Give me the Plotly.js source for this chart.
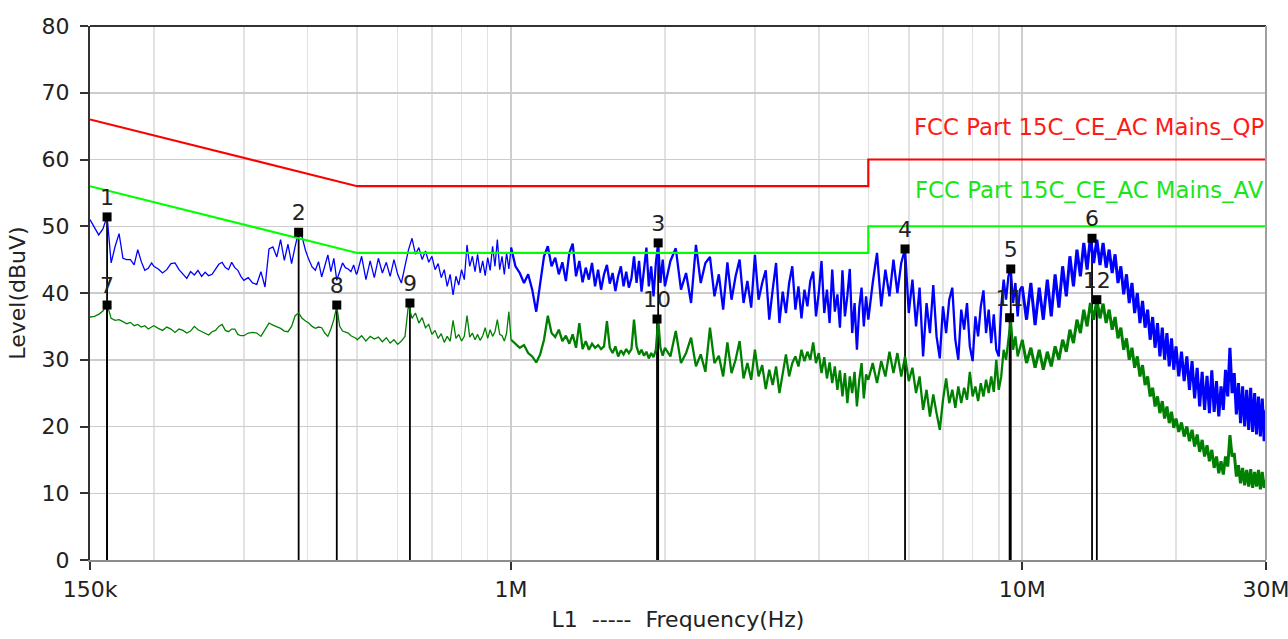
<!DOCTYPE html>
<html><head><meta charset="utf-8">
<script src="https://cdn.plot.ly/plotly-3.0.1.min.js"></script>
<style>html,body{margin:0;padding:0;background:#fff;} #chart{width:1288px;height:639px;}</style>
</head><body><div id="chart"></div>
<script>
// ---- Scan data (frequency in MHz, level in dBuV) ----
const freqA = [0.150,0.153,0.156,0.159,0.162,0.165,0.168,0.171,0.174,0.177,0.180,0.183,0.186,0.189,0.192,0.195,0.198];
const peakA = [51.0,49.8,48.7,49.6,51.5,44.5,47.0,48.9,45.2,45.0,45.0,44.2,46.5,44.7,43.4,43.7,44.5];
const avgA  = [36.4,36.5,36.8,37.3,38.3,36.2,35.9,36.0,35.7,35.4,35.6,35.1,35.3,34.9,35.1,34.6,34.9];

const freqB = [0.200,0.204,0.208,0.212,0.216,0.220,0.224,0.228,0.232,0.236,0.240,0.244,0.248,0.252,0.256,0.260,0.264,0.268,0.272,0.276,0.280,0.284,0.288,0.292,0.296];
const peakB = [44.0,43.6,43.0,43.5,44.4,44.5,43.5,42.8,42.2,43.2,42.7,43.4,42.5,43.1,42.6,42.8,43.5,44.3,44.6,43.8,43.5,44.6,43.8,43.4,42.5];
const avgB  = [35.1,34.7,34.4,34.9,34.6,34.1,34.6,34.4,34.0,34.3,35.0,34.5,34.2,33.9,33.7,34.2,34.4,35.0,35.3,34.4,34.2,34.6,34.6,33.8,33.6];

const freqC = [0.300,0.306,0.312,0.318,0.324,0.330,0.336,0.342,0.348,0.354,0.360,0.366,0.372,0.378,0.384,0.390,0.396,0.402,0.408,0.414,0.420,0.426,0.432,0.438,0.444,0.450,0.456,0.462,0.468,0.474,0.480,0.486,0.492,0.498];
const peakC = [41.9,42.3,41.5,41.3,43.2,40.9,46.6,46.9,45.4,48.0,44.9,47.3,44.4,47.0,49.2,48.4,46.4,45.0,43.9,43.4,44.7,42.4,43.9,45.7,43.2,45.2,41.9,43.4,44.5,43.8,43.6,43.2,44.2,42.8];
const avgC  = [33.6,34.0,34.1,34.0,33.5,34.5,35.5,35.2,35.0,34.7,34.3,34.2,35.0,36.6,37.0,36.2,35.8,35.5,35.0,34.7,34.9,34.8,34.0,33.5,34.6,36.0,38.0,35.0,34.3,34.1,34.0,33.6,33.4,33.2];

const freqD = [0.50,0.51,0.52,0.53,0.54,0.55,0.56,0.57,0.58,0.59,0.60,0.61,0.62,0.63,0.64,0.65,0.66,0.67,0.68,0.69,0.70,0.71,0.72,0.73,0.74,0.75,0.76,0.77,0.78,0.79,0.80,0.81,0.82,0.83,0.84,0.85,0.86,0.87,0.88,0.89,0.90,0.91,0.92,0.93,0.94,0.95,0.96,0.97,0.98,0.99];
const peakD = [43.0,45.5,42.0,44.8,42.3,45.2,43.0,44.6,42.5,45.0, 42.8,41.5,44.0,46.5,48.2,45.8,46.8,45.0,46.3,44.6, 45.5,43.5,44.4,42.3,43.5,41.0,42.8,39.7,42.5,41.2, 43.5,42.0,47.2,44.0,45.5,43.2,45.8,43.0,44.8,42.6, 45.3,43.4,47.0,44.0,48.0,43.5,45.5,42.8,46.0,43.6];
const avgD  = [33.0,33.6,32.8,33.5,33.1,33.4,32.7,33.3,32.5,33.0, 32.3,32.8,33.5,38.3,36.2,37.0,35.5,36.3,34.8,35.3, 33.8,34.4,33.2,33.9,32.6,33.5,32.8,35.9,33.2,33.8, 32.8,33.5,36.6,33.4,34.0,33.0,33.8,32.9,33.6,34.8, 33.2,34.5,33.5,34.2,36.0,33.8,33.6,32.8,34.0,37.2];

const freqE = [1.00,1.02,1.04,1.06,1.08,1.10,1.12,1.14,1.16,1.18,1.20,1.22,1.24,1.26,1.28,1.30,1.32,1.34,1.36,1.38,1.40,1.42,1.44,1.46,1.48,1.50,1.52,1.54,1.56,1.58,1.60,1.62,1.64,1.66,1.68,1.70,1.72,1.74,1.76,1.78,1.80,1.82,1.84,1.86,1.88,1.90,1.92,1.94,1.96,1.98];
const peakE = [46.8,44.0,43.0,41.5,42.8,40.5,37.2,41.2,45.5,47.0, 44.0,45.3,42.8,44.6,41.8,46.0,47.4,42.5,44.8,41.6, 43.8,42.0,44.5,41.0,43.5,40.5,42.8,44.2,41.4,43.0, 40.3,42.5,44.0,41.0,43.2,40.8,42.2,45.5,41.5,44.8, 40.2,43.5,46.8,41.0,44.0,39.5,44.5,47.5,41.5,45.0];
const avgE  = [33.0,32.4,31.8,32.2,31.0,30.5,29.6,30.8,33.0,36.6, 34.0,33.4,34.5,32.8,33.6,32.4,33.8,31.8,35.5,31.6, 32.8,31.5,32.4,31.8,32.2,31.6,32.0,35.8,31.8,31.0, 32.0,30.5,31.4,30.8,31.6,31.0,31.6,36.0,32.0,30.8, 31.5,30.6,31.2,30.2,31.0,30.4,31.5,36.1,31.8,30.6];

const freqF = [2.00,2.05,2.10,2.15,2.20,2.25,2.30,2.35,2.40,2.45,2.50,2.55,2.60,2.65,2.70,2.75,2.80,2.85,2.90,2.95,3.00,3.05,3.10,3.15,3.20,3.25,3.30,3.35,3.40,3.45,3.50,3.55,3.60,3.65,3.70,3.75,3.80,3.85,3.90,3.95,4.00,4.05,4.10,4.15,4.20,4.25,4.30,4.35,4.40,4.45,4.50,4.55,4.60,4.65,4.70,4.75,4.80,4.85,4.90,4.95];
const peakF = [41.0,44.8,46.7,40.5,43.0,38.5,47.2,41.5,44.5,45.4, 39.5,42.8,37.5,44.6,39.0,42.5,45.0,38.5,41.8,37.8, 45.7,39.0,41.5,43.4,36.0,40.5,44.5,35.5,40.2,37.0, 41.5,44.0,37.5,41.0,36.2,40.5,38.0,41.8,43.2,36.5, 40.0,44.8,37.0,40.5,35.5,43.5,37.2,39.8,34.8,43.4, 36.5,39.6,43.6,34.0,38.5,31.5,37.8,40.8,35.0,39.5];
const avgF  = [31.8,30.5,34.3,29.5,31.0,33.3,29.0,30.8,28.2,34.8, 29.5,30.6,27.5,32.6,28.0,30.0,32.8,27.2,29.5,27.0, 31.5,27.5,29.2,25.6,28.5,26.2,29.0,25.0,28.2,30.8, 27.5,29.5,30.5,29.0,31.5,29.8,31.2,30.0,32.6,29.5, 31.0,28.0,30.4,27.2,29.6,26.5,29.0,25.5,28.4,24.5, 28.0,23.5,27.5,25.0,28.2,23.0,27.0,29.5,24.2,27.8];

const freqG = [5.0,5.1,5.2,5.3,5.4,5.5,5.6,5.7,5.8,5.9,6.0,6.1,6.2,6.3,6.4,6.5,6.6,6.7,6.8,6.9,7.0,7.1,7.2,7.3,7.4,7.5,7.6,7.7,7.8,7.9,8.0,8.1,8.2,8.3,8.4,8.5,8.6,8.7,8.8,8.9,9.0,9.1,9.2,9.3,9.4,9.5,9.6,9.7,9.8,9.9];
const peakG = [36.0,41.5,46.0,38.0,43.5,39.5,45.0,40.0,44.5,46.6, 37.0,42.0,35.0,40.8,30.5,38.5,34.0,41.2,33.5,30.2, 38.0,34.0,39.0,40.8,33.0,30.0,37.5,34.5,38.5,32.0, 29.8,36.5,33.5,38.0,40.4,34.0,37.5,32.5,36.8,31.5, 30.5,38.0,42.0,39.0,42.5,43.6,38.5,41.5,36.5,40.5];
const avgG  = [27.0,29.5,26.5,29.8,27.5,31.2,28.0,31.0,27.5,30.5, 26.8,28.8,25.0,27.5,22.5,25.5,21.5,24.8,22.0,19.5, 24.0,27.2,23.5,25.5,22.8,26.0,23.5,25.8,24.0,28.2, 24.5,26.0,23.8,26.5,24.5,27.0,25.0,27.5,25.2,30.0, 25.5,27.5,31.5,30.0,33.0,36.0,31.5,33.5,30.5,32.0];

const freqH = [10.0,10.2,10.4,10.6,10.8,11.0,11.2,11.4,11.6,11.8,12.0,12.2,12.4,12.6,12.8,13.0,13.2,13.4,13.6,13.8,14.0,14.2,14.4,14.6,14.8,15.0,15.2,15.4,15.6,15.8,16.0,16.2,16.4,16.6,16.8,17.0,17.2,17.4,17.6,17.8,18.0,18.2,18.4,18.6,18.8,19.0,19.2,19.4,19.6,19.8];
const peakH = [41.0,36.0,41.5,35.2,40.8,36.0,42.0,36.5,42.8,37.8, 44.0,39.5,45.5,41.0,46.5,42.5,47.5,43.5,48.4,44.5, 48.0,44.2,47.5,43.8,46.5,43.0,45.8,41.5,44.0,39.8, 42.8,38.5,41.5,37.0,40.0,35.5,38.8,34.8,37.5,33.0, 36.4,31.8,35.5,30.5,34.8,30.0,34.0,29.0,33.2,28.5];
const avgH  = [33.0,29.5,31.8,28.8,31.5,28.5,31.2,29.0,32.0,30.0, 33.0,31.2,34.5,32.5,36.0,34.0,37.5,35.0,38.5,36.0, 39.0,36.2,38.4,35.5,37.5,34.5,36.4,33.2,34.8,31.5, 33.2,30.0,31.8,28.8,30.5,27.5,29.2,26.2,27.5,24.5, 25.8,23.0,24.5,22.0,23.8,21.2,23.0,20.5,22.2,19.8];

const freqI = [20.0,20.25,20.5,20.75,21.0,21.25,21.5,21.75,22.0,22.25,22.5,22.75,23.0,23.25,23.5,23.75,24.0,24.25,24.5,24.75,25.0,25.25,25.5,25.75,26.0,26.25,26.5,26.75,27.0,27.25,27.5,27.75,28.0,28.25,28.5,28.75,29.0,29.25,29.5,29.75,30.0];
const peakI = [32.0,27.5,31.2,26.8,30.5,25.5,29.8,24.2,28.8,23.0, 28.2,22.5,27.6,22.0,28.4,22.2,26.8,21.5,26.0,22.5, 28.5,24.5,31.8,25.0,28.0,21.8,26.5,20.5,26.0,20.0, 25.5,19.5,25.8,19.2,25.0,18.8,24.5,18.5,24.2,17.8, 22.5];
const avgI  = [21.2,19.2,20.6,18.5,20.0,17.8,19.5,17.0,18.8,16.2, 18.0,15.5,17.2,14.8,16.5,13.8,15.5,13.0,14.8,12.8, 15.5,14.0,18.7,15.5,16.0,12.5,14.2,11.5,13.8,11.2, 13.5,11.0,13.6,10.8,13.2,11.0,13.5,10.6,13.2,10.8, 12.0];

// ---- Limit lines ----
const limitFreq = [0.15, 0.5, 5, 5, 30];
const qpLimit = [66, 56, 56, 60, 60];
const avLimit = [56, 46, 46, 50, 50];
const limitNames = ['FCC Part 15C_CE_AC Mains_QP', 'FCC Part 15C_CE_AC Mains_AV'];
const limitLabelLevel = [64.9, 55.4];

// ---- Marked peaks ----
const markerLabel = ['1','2','3','4','5','6','7','8','9','10','11','12'];
const markerFreq  = [0.162,0.384,1.94,5.9,9.5,13.7,0.162,0.456,0.634,1.93,9.45,14.0];
const markerLevel = [51.4,49.1,47.5,46.6,43.6,48.2,38.2,38.2,38.5,36.1,36.3,39.0];

// ---- Axis ticks ----
const xTickVals = [0.15, 1, 10, 29.999];
const xTickText = ['150k', '1M', '10M', '30M'];
const xGridVals = [0.2,0.3,0.4,0.5,0.6,0.7,0.8,0.9,2,3,4,5,6,7,8,9,20];

const freqMHz = [].concat(freqA, freqB, freqC, freqD, freqE, freqF, freqG, freqH, freqI);
const peakLevel = [].concat(peakA, peakB, peakC, peakD, peakE, peakF, peakG, peakH, peakI);
const avgLevel = [].concat(avgA, avgB, avgC, avgD, avgE, avgF, avgG, avgH, avgI);

function part(ys, lo, hi) {
  const x = [], y = [];
  freqMHz.forEach((f, i) => { if (f >= lo && f <= hi) { x.push(f); y.push(ys[i]); } });
  return {x, y};
}
const ranges = [[0, 1.0, 1.3], [1.0, 10.0, 2.3], [10.0, 100, 3.0]];
const traces = [];

// vertical marker lines (below traces)
const vx = [], vy = [];
markerFreq.forEach((f, i) => { vx.push(f, f, null); vy.push(0, markerLevel[i], null); });
traces.push({x: vx, y: vy, mode: 'lines', line: {color: '#000', width: 1.8}, hoverinfo: 'skip'});

ranges.forEach(r => {
  const p = part(peakLevel, r[0], r[1]);
  traces.push({x: p.x, y: p.y, mode: 'lines', line: {color: '#0000ff', width: r[2]}, hoverinfo: 'skip'});
});
ranges.forEach(r => {
  const p = part(avgLevel, r[0], r[1]);
  traces.push({x: p.x, y: p.y, mode: 'lines', line: {color: '#008000', width: r[2]}, hoverinfo: 'skip'});
});
traces.push({x: limitFreq, y: qpLimit, mode: 'lines', line: {color: '#ff0000', width: 2.2}});
traces.push({x: limitFreq, y: avLimit, mode: 'lines', line: {color: '#00ff00', width: 2.2}});
traces.push({x: markerFreq, y: markerLevel, mode: 'markers+text', text: markerLabel,
  textposition: 'top center', cliponaxis: false,
  textfont: {family: 'DejaVu Sans', size: 22, color: '#222'},
  marker: {symbol: 'square', size: 9, color: '#000'}});

const layout = {
  width: 1288, height: 639,
  margin: {l: 90, r: 22, t: 26, b: 79},
  paper_bgcolor: '#fff', plot_bgcolor: '#fff',
  showlegend: false,
  font: {family: 'DejaVu Sans', size: 22, color: '#222'},
  xaxis: {
    type: 'log', range: [Math.log10(0.15), Math.log10(30)],
    tickmode: 'array', tickvals: xTickVals, ticktext: xTickText,
    ticks: 'outside', ticklen: 8, tickwidth: 2, tickcolor: '#333',
    showline: true, linecolor: '#8c8c8c', linewidth: 2,
    showgrid: true, gridcolor: '#cdcdcd', gridwidth: 1.5,
    minor: {tickmode: 'array', tickvals: xGridVals, showgrid: true, gridcolor: '#e2e2e2', gridwidth: 1.5, ticks: ''},
    zeroline: false, ticklabelstandoff: 1, ticklabeloverflow: 'allow',
    tickfont: {family: 'DejaVu Sans', size: 22, color: '#222'},
    title: {text: 'L1\u00a0\u00a0-----\u00a0\u00a0Frequency(Hz)', font: {family: 'DejaVu Sans', size: 22, color: '#222'}, standoff: 10}
  },
  yaxis: {
    range: [0, 80], tick0: 0, dtick: 10,
    ticks: 'outside', ticklen: 8, tickwidth: 2, tickcolor: '#333',
    showline: true, linecolor: '#333', linewidth: 2,
    showgrid: true, gridcolor: '#cccccc', gridwidth: 1.5,
    zeroline: false, ticklabelstandoff: 6,
    tickfont: {family: 'DejaVu Sans', size: 22, color: '#222'},
    title: {text: 'Level(dBuV)', font: {family: 'DejaVu Sans', size: 22, color: '#222'}, standoff: 10}
  },
  shapes: [
    {type: 'line', xref: 'paper', yref: 'paper', x0: 0, x1: 1, y0: 1, y1: 1, line: {color: '#333', width: 2}},
    {type: 'line', xref: 'paper', yref: 'paper', x0: 1, x1: 1, y0: 0, y1: 1, line: {color: '#a0a0a0', width: 2}}
  ],
  annotations: [
    {xref: 'paper', x: 1, xanchor: 'right', yref: 'y', y: limitLabelLevel[0], yanchor: 'middle', showarrow: false,
     text: limitNames[0], font: {family: 'DejaVu Sans', size: 22.8, color: '#ff1a1a'}},
    {xref: 'paper', x: 1, xanchor: 'right', yref: 'y', y: limitLabelLevel[1], yanchor: 'middle', showarrow: false,
     text: limitNames[1], font: {family: 'DejaVu Sans', size: 22.8, color: '#19e619'}}
  ]
};
Plotly.newPlot('chart', traces, layout, {staticPlot: true, displayModeBar: false});
</script></body></html>
